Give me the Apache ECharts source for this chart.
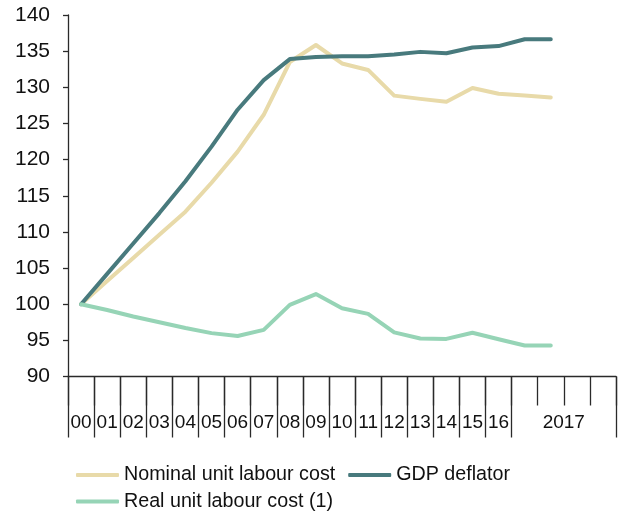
<!DOCTYPE html>
<html>
<head>
<meta charset="utf-8">
<script src="https://cdn.jsdelivr.net/npm/echarts@6/dist/echarts.min.js"></script>
<style>
html,body{margin:0;padding:0;background:#fff;}
#chart{width:620px;height:514px;}
</style>
</head>
<body>
<div id="chart"></div>
<script>
// Categories: years 2000-2016, then 2017 quarters
const categories = ['00','01','02','03','04','05','06','07','08','09','10','11','12','13','14','15','16','2017Q1','2017Q2','2017Q3','2017Q4'];
const yTicks = { min: 90, max: 140, interval: 5 };

const nominalULC = [100, 103.2, 106.4, 109.6, 112.8, 116.8, 121.1, 126.2, 133.5, 135.85, 133.3, 132.4, 128.85, 128.4, 128.0, 129.9, 129.1, 128.85, 128.6];
const gdpDeflator = [100, 104.2, 108.4, 112.6, 117.0, 121.8, 126.9, 131.0, 133.9, 134.2, 134.3, 134.3, 134.55, 134.9, 134.7, 135.5, 135.7, 136.65, 136.65];
const realULC = [100, 99.2, 98.3, 97.5, 96.7, 96.0, 95.6, 96.45, 99.9, 101.4, 99.45, 98.66, 96.1, 95.25, 95.2, 96.05, 95.15, 94.28, 94.28];

const names = ['Nominal unit labour cost', 'GDP deflator', 'Real unit labour cost (1)'];
const colors = ['#E8DAA9', '#487A7D', '#96D4B6'];
const axisColor = '#2a2a2a';
const font = 'Liberation Sans, Arial, sans-serif';

const chart = echarts.init(document.getElementById('chart'), null, { renderer: 'canvas' });

const legendBase = {
  left: 76,
  padding: 0,
  itemWidth: 43,
  itemHeight: 4,
  itemGap: 13,
  icon: 'roundRect',
  textStyle: { fontSize: 19.7, color: '#111', fontFamily: font }
};

const option = {
  animation: false,
  backgroundColor: '#ffffff',
  textStyle: { fontFamily: font },
  grid: { left: 68, right: 4, top: 15, bottom: 137.5, containLabel: false },
  legend: [
    Object.assign({}, legendBase, { data: [names[0], names[1]], top: 465 }),
    Object.assign({}, legendBase, { data: [names[2]], top: 491.5 })
  ],
  xAxis: [
    {
      type: 'category',
      data: categories,
      position: 'bottom',
      boundaryGap: true,
      axisLine: { show: true, lineStyle: { color: axisColor, width: 1.3 } },
      axisTick: {
        show: true,
        length: 61,
        interval: function (idx) { return idx <= 17; },
        lineStyle: { color: axisColor, width: 1.3 }
      },
      axisLabel: {
        interval: 0,
        margin: 37,
        fontSize: 19,
        color: '#111',
        fontFamily: font,
        formatter: function (v) {
          if (v.indexOf('2017') === 0) {
            return v === '2017Q2' ? '{y|2017}' : '';
          }
          return v;
        },
        rich: { y: { fontSize: 19, color: '#111', fontFamily: font, padding: [0, 0, 0, 26] } }
      },
      splitLine: { show: false }
    },
    {
      type: 'category',
      data: categories,
      position: 'bottom',
      boundaryGap: true,
      axisLine: { show: false },
      axisTick: { show: true, length: 29, interval: 0, lineStyle: { color: axisColor, width: 1.3 } },
      axisLabel: { show: false },
      splitLine: { show: false }
    }
  ],
  yAxis: {
    type: 'value',
    min: yTicks.min,
    max: yTicks.max,
    interval: yTicks.interval,
    axisLine: { show: true, lineStyle: { color: axisColor, width: 1.3 } },
    axisTick: { show: true, length: 5, lineStyle: { color: axisColor, width: 1.3 } },
    axisLabel: { margin: 18, fontSize: 21, color: '#111', fontFamily: font },
    splitLine: { show: false }
  },
  series: [
    { name: names[0], type: 'line', data: nominalULC, xAxisIndex: 0, symbol: 'none', lineStyle: { width: 4, color: colors[0], cap: 'round', join: 'round' }, itemStyle: { color: colors[0] }, z: 2 },
    { name: names[1], type: 'line', data: gdpDeflator, xAxisIndex: 0, symbol: 'none', lineStyle: { width: 4, color: colors[1], cap: 'round', join: 'round' }, itemStyle: { color: colors[1] }, z: 3 },
    { name: names[2], type: 'line', data: realULC, xAxisIndex: 0, symbol: 'none', lineStyle: { width: 4, color: colors[2], cap: 'round', join: 'round' }, itemStyle: { color: colors[2] }, z: 4 }
  ]
};
chart.setOption(option);
</script>
</body>
</html>
